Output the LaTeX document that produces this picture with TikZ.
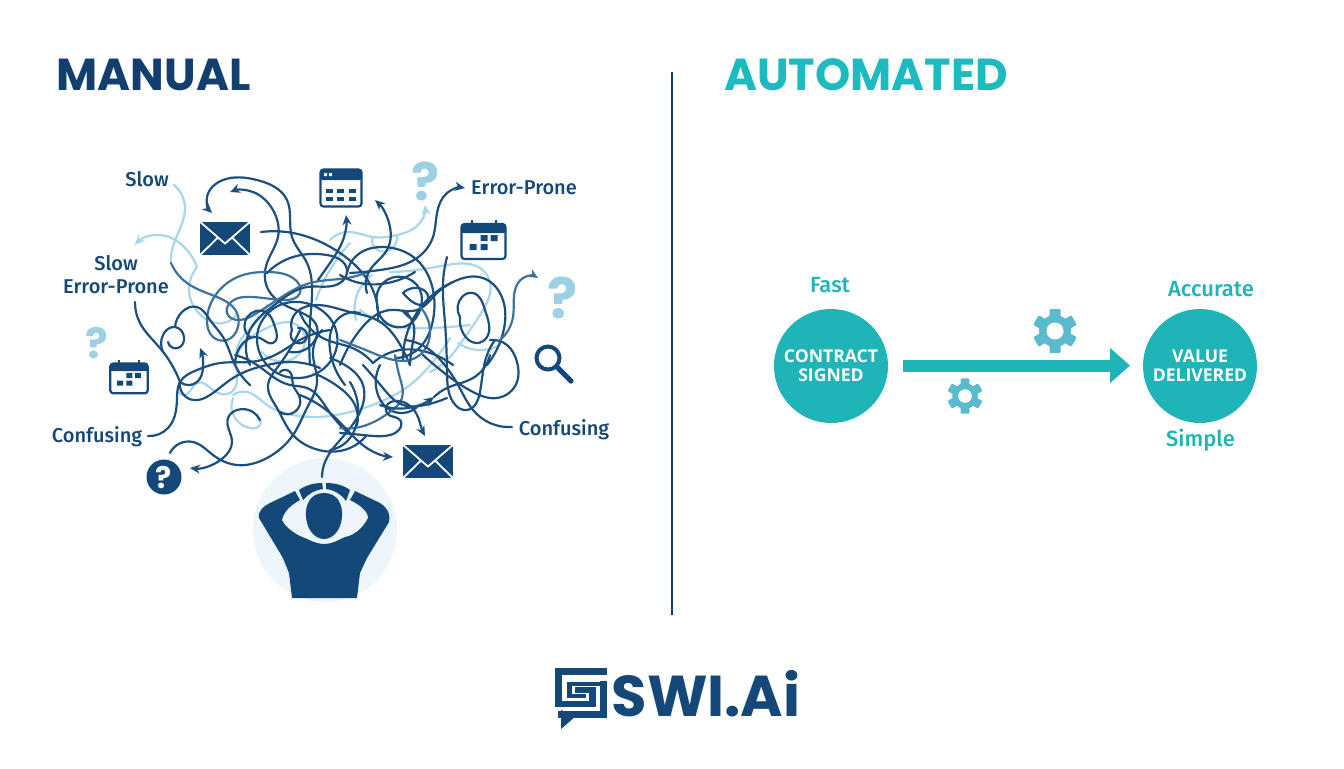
\documentclass[tikz,border=0pt]{standalone}
\usepackage{xcolor}
\usepackage{fontspec}
\usepackage{tikz}
\usetikzlibrary{arrows.meta, positioning, calc, hobby}
\setmainfont{Fira Sans Medium}[BoldFont=Open Sans Bold]
\newfontfamily\headfont{Poppins}[BoldFont=Poppins Bold]
\definecolor{navy}{HTML}{144878}
\definecolor{headnavy}{HTML}{123F6E}
\definecolor{wire}{HTML}{1A4F7F}
\definecolor{midwire}{HTML}{3E729E}
\definecolor{pale}{HTML}{A9D6E8}
\definecolor{qmark}{HTML}{9CD0E5}
\definecolor{teal}{HTML}{1EB4B8}
\definecolor{headteal}{HTML}{1DBBC0}
\definecolor{gearblue}{HTML}{5ABBCF}
\definecolor{halo}{HTML}{EDF6FA}
\tikzset{
  wirestrand/.style={draw=wire, line width=1.1pt, line cap=round, line join=round, use Hobby shortcut},
  midstrand/.style={draw=midwire, line width=1.1pt, line cap=round, line join=round, use Hobby shortcut},
  palestrand/.style={draw=pale, line width=1.1pt, line cap=round, line join=round, use Hobby shortcut},
  tip/.style={-{Stealth[length=5pt,width=4.5pt]}},
  lbl/.style={text=navy, font=\fontsize{10}{11.2}\selectfont, align=center, inner sep=0pt},
  tlbl/.style={text=teal, font=\fontsize{11}{12}\selectfont, align=center, inner sep=0pt},
  hub/.style={circle, fill=teal, minimum size=57pt, inner sep=0pt, text=white, align=center,
    font=\fontsize{8.8}{9.5}\selectfont\bfseries},
  quest/.style={text=qmark, inner sep=0pt, font=\headfont\bfseries},
  mailicon/.pic={
    \fill[navy] (-25,-16.5) rectangle (25,16.5);
    \draw[white, line width=0.9pt] (-26,-17.5) -- (0,5) -- (26,-17.5) (-26,17.5) -- (-7,-1) (26,17.5) -- (7,-1);
  },
  calicon/.pic={
    \draw[navy, line width=1.1pt, rounded corners=1.5pt, fill=white] (-22,-17) rectangle (22,18);
    \fill[navy, rounded corners=1pt] (-22,-17) rectangle (22,-8);
    \draw[navy, line width=1pt] (-12,-21) -- (-12,-14) (12,-21) -- (12,-14);
    \fill[navy] (-3,-6) rectangle (4,0) (7,-6) rectangle (14,0) (-14,3) rectangle (-7,9) (-3,3) rectangle (4,9);
  },
  cogicon/.pic={
    \fill[gearblue] (0,0) circle (16);
    \foreach \a in {0,60,...,300}
      \fill[gearblue, rotate=\a, rounded corners=0.5pt] (-5.5,-22) rectangle (5.5,-13);
    \fill[white] (0,0) circle (8.5);
  }
}
\begin{document}
\begin{tikzpicture}[x=0.5pt,y=-0.5pt]
  \useasboundingbox (0,0) rectangle (1344,768);
  \fill[white] (0,0) rectangle (1344,768);

  % Titres
  \node[text=headnavy, font=\headfont\bfseries\fontsize{22.4}{26}\selectfont, inner sep=0pt] (manualhead) at (153.5,75) {MANUAL};
  \node[text=headteal, font=\headfont\bfseries\fontsize{22.4}{26}\selectfont, inner sep=0pt] (autohead) at (866,75) {AUTOMATED};
  \draw[headnavy, line width=1pt] (672,72) -- (672,615);

  % Personnage
  \fill[halo] (325,530) circle (72);
  \fill[navy] (292,598) -- (357,598) -- (360,573) -- (367,558) -- (389,522) .. controls (391,512) and (385,506) .. (380,503)
    -- (355,491) -- (350,500) .. controls (360,505) and (368,511) .. (368,518) .. controls (362,530) and (352,536) .. (345,537)
    .. controls (338,540) and (332,544) .. (325,544) .. controls (316,544) and (310,540) .. (300,536)
    .. controls (294,533) and (285,527) .. (282,520) .. controls (284,511) and (291,505) .. (300,500)
    -- (295,491) -- (270,503) .. controls (264,506) and (258,510) .. (259,518) -- (283,558) -- (289,573) -- cycle;
  \fill[navy] (299,490) .. controls (306,485) and (314,483) .. (322,483) -- (323,489) .. controls (315,490) and (308,494) .. (303,500) -- cycle;
  \fill[navy] (350,490) .. controls (343,485) and (335,483) .. (326,483) -- (326,489) .. controls (334,490) and (341,494) .. (346,501) -- cycle;
  \fill[navy] (324,493) .. controls (338,493) and (343,505) .. (342,517) .. controls (341,530) and (333,539) .. (324,539)
    .. controls (315,539) and (307,530) .. (306,517) .. controls (305,505) and (310,493) .. (324,493) -- cycle;

  % Fils clairs
  \draw[palestrand] (174,185) .. (185,207) .. (172,250) .. (171,263);
  \draw[palestrand, tip] (197,267) .. (187,250) .. (160,235) .. (135,245);
  \draw[palestrand] (197,267) .. (190,297) .. (203,317) .. (227,322) .. (237,313);
  \draw[palestrand, tip] (330,240) .. (347,232) .. (373,237) .. (397,235) .. (418,225) .. (425,205);
  \draw[palestrand] (373,237) .. (375,248) .. (395,245) .. (397,235);
  \draw[palestrand] (390,272) .. (417,270) .. (447,265) .. (480,268) .. (490,282) .. (483,310) .. (463,340) .. (445,362) .. (430,372);
  \draw[palestrand] (180,385) .. (183,395) .. (197,383) .. (213,390) .. (230,393) .. (237,372) .. (238,345) .. (260,318) .. (267,305);
  \draw[palestrand] (233,395) .. (247,392) .. (267,405) .. (293,415) .. (317,417) .. (350,412) .. (380,402) .. (410,385) .. (433,362) .. (450,338);
  \draw[palestrand] (233,398) .. (235,418) .. (250,428) .. (260,425) .. (257,417);
  \draw[palestrand] (237,357) .. (247,340) .. (263,330) .. (297,325) .. (305,338) .. (290,360) .. (262,352);
  \draw[palestrand] (316,300) .. (335,262) .. (350,243);
  \draw[palestrand] (356,320) .. (362,285) .. (372,275);
  \draw[palestrand] (360,310) .. (395,326) .. (430,328) .. (470,325);
  \draw[palestrand] (458,343) .. (478,350) .. (500,345);

  % Fils sombres, en haut
  \draw[wirestrand, tip] (310,365) .. (310,323) .. (312,287) .. (307,263) .. (292,237) .. (287,200) .. (257,180) .. (223,180) .. (207,197) .. (212,213);
  \draw[wirestrand, tip] (290,352) .. (315,340) .. (317,327) .. (300,312) .. (277,300) .. (267,287) .. (267,263) .. (278,237) .. (273,210) .. (253,192) .. (230,192);
  \draw[wirestrand] (261,232) .. (293,233) .. (340,253) .. (372,288) .. (378,320);
  \draw[midstrand] (171,263) .. (187,283) .. (217,297) .. (237,313) .. (238,327) .. (227,340) .. (213,337) .. (207,320) .. (217,293) .. (243,275) .. (267,272) .. (293,278) .. (300,293) .. (283,300) .. (253,297) .. (230,303) .. (227,313) .. (240,320) .. (257,313) .. (277,300) .. (310,283) .. (347,278) .. (368,272);
  \draw[wirestrand] (267,273) .. (293,257) .. (327,255) .. (347,270) .. (340,283) .. (307,287) .. (277,303) .. (250,330) .. (250,365);
  \draw[wirestrand, tip] (350,273) .. (380,270) .. (417,258) .. (433,237) .. (437,213) .. (447,193) .. (465,188);
  \draw[wirestrand, tip] (367,293) .. (370,270) .. (387,250) .. (390,227) .. (375,200);
  \draw[wirestrand, tip] (318,280) .. (330,263) .. (343,240) .. (346,215);
  \draw[wirestrand] (347,273) .. (360,253) .. (383,247) .. (417,260) .. (433,290) .. (433,320) .. (417,350) .. (395,358);
  \draw[wirestrand] (340,275) .. (360,283) .. (392,282) .. (415,272);
  \draw[wirestrand] (377,303) .. (383,283) .. (403,277) .. (420,290) .. (420,310) .. (403,327) .. (383,320) .. (377,303);
  \draw[wirestrand] (403,293) .. (413,288) .. (427,302) .. (410,300) .. (403,293);

  % Fils sombres, a gauche
  \draw[wirestrand] (135,302) .. (140,323) .. (160,348) .. (180,382);
  \draw[wirestrand] (163,352) .. (163,335) .. (175,327) .. (184,337) .. (178,348) .. (168,342);
  \draw[wirestrand] (175,327) .. (182,312) .. (197,307) .. (210,320) .. (223,337) .. (235,365) .. (250,385);
  \draw[wirestrand] (148,436) .. (168,428) .. (175,415) .. (177,398) .. (180,382) .. (197,370) .. (220,363) .. (250,362) .. (275,355) .. (300,340) .. (330,330);
  \draw[wirestrand, tip] (180,382) .. (197,382) .. (203,368) .. (200,348);
  \draw[wirestrand] (180,382) .. (193,400) .. (210,395) .. (233,378) .. (267,365) .. (290,362) .. (320,368);
  \draw[wirestrand, tip] (260,420) .. (253,412) .. (237,410) .. (228,418) .. (232,442) .. (223,458) .. (190,468);
  \draw[wirestrand] (170,453) .. (193,442) .. (213,455) .. (237,465) .. (267,458) .. (293,435) .. (307,408) .. (317,382) .. (313,355) .. (322,330);
  \draw[wirestrand] (322,477) .. (325,462) .. (347,432) .. (360,412) .. (363,385) .. (345,365) .. (330,358);
  \draw[wirestrand] (300,330) .. (277,368) .. (268,385) .. (277,408) .. (293,435) .. (310,447) .. (350,448) .. (366,436);
  \draw[wirestrand] (280,412) .. (300,398) .. (293,385) .. (290,372) .. (280,372);
  \draw[wirestrand] (250,337) .. (267,313) .. (275,327) .. (273,343) .. (260,338) .. (240,347) .. (235,365);
  \draw[wirestrand] (292,330) .. (293,317) .. (317,305) .. (350,312) .. (377,320) .. (403,350) .. (410,365);
  \draw[wirestrand] (292,330) .. (297,343) .. (307,337) .. (298,328);
  \draw[wirestrand] (300,313) .. (327,340) .. (350,347) .. (373,363);
  \draw[wirestrand] (235,355) .. (257,365) .. (290,385) .. (307,388) .. (328,410) .. (347,432);
  \draw[wirestrand] (258,330) .. (280,305) .. (312,305) .. (336,330) .. (330,362) .. (300,378) .. (270,368) .. (258,330);

  % Fils sombres, au centre et en bas
  \draw[wirestrand] (340,365) .. (360,330) .. (390,310) .. (417,310) .. (437,293) .. (453,282) .. (483,278) .. (503,300) .. (503,333) .. (487,365);
  \draw[wirestrand] (403,360) .. (427,300) .. (453,282);
  \draw[wirestrand] (373,363) .. (400,350) .. (430,353) .. (453,365);
  \draw[midstrand] (340,340) .. (373,353) .. (417,357) .. (430,333) .. (420,307);
  \draw[wirestrand] (360,313) .. (340,317) .. (330,350) .. (345,385);
  \draw[wirestrand, tip] (410,365) .. (412,347) .. (413,323) .. (401,311);
  \draw[wirestrand] (380,365) .. (378,395) .. (390,410) .. (417,407);
  \draw[midstrand] (395,355) .. (400,378) .. (402,398) .. (390,412) .. (360,427) .. (340,428);
  \draw[wirestrand] (350,382) .. (357,422) .. (350,438) .. (330,450);
  \draw[wirestrand] (318,375) .. (340,388) .. (355,405) .. (357,425);
  \draw[wirestrand] (363,365) .. (383,388) .. (403,405) .. (425,405) .. (447,398);
  \draw[wirestrand, tip] (340,433) .. (363,435) .. (390,435) .. (400,420) .. (387,413) .. (420,423) .. (425,436);
  \draw[wirestrand, tip] (300,395) .. (330,413) .. (350,433) .. (370,450) .. (393,457);
  \draw[wirestrand, tip] (380,405) .. (413,407) .. (434,397);
  \draw[wirestrand] (434,397) .. (447,388) .. (473,378) .. (490,355);

  % Fils sombres, a droite
  \draw[wirestrand] (512,427) .. (490,423) .. (473,410) .. (457,383) .. (443,363) .. (430,350) .. (405,340);
  \draw[wirestrand] (447,257) .. (443,283) .. (445,323) .. (447,372) .. (453,402) .. (467,410) .. (480,392) .. (487,355) .. (495,340);
  \draw[wirestrand] (423,355) .. (443,372) .. (473,392) .. (497,398) .. (517,382) .. (517,362) .. (507,345) .. (490,340);
  \draw[wirestrand] (460,317) .. (462,297) .. (473,293) .. (485,310) .. (487,337) .. (477,343) .. (463,333) .. (460,317);
  \draw[midstrand, tip] (500,340) .. (513,317) .. (515,290) .. (523,278) .. (538,278);

  % Icones
  \pic at (225,238.5) {mailicon};
  \pic at (428,461.5) {mailicon};
  \draw[navy, line width=1.1pt, rounded corners=1.5pt, fill=white] (320.5,169.5) rectangle (361.5,206.5);
  \fill[navy, rounded corners=1pt] (320.5,169.5) rectangle (361.5,180);
  \fill[white] (324,173) rectangle (327,176) (329,173) rectangle (332,176);
  \foreach \cx in {326,337,349}
    \foreach \cy in {189,197}
      \fill[navy] (\cx,\cy) rectangle ++(7,4);
  \pic at (483.5,241) {calicon};
  \pic[scale=0.85] at (129,378) {calicon};
  \node[quest, font=\headfont\bfseries\fontsize{26}{28}\selectfont] (qtop) at (425,181) {?};
  \node[quest, font=\headfont\bfseries\fontsize{28}{30}\selectfont] (qright) at (563,298) {?};
  \node[quest, font=\headfont\bfseries\fontsize{21}{23}\selectfont] (qleft) at (97,343) {?};
  \node[circle, fill=navy, minimum size=17.5pt, inner sep=0pt, text=white, font=\headfont\bfseries\fontsize{15}{17}\selectfont] (qdark) at (164,477) {?};
  \draw[navy, line width=2pt] (548,358) circle (11.5);
  \draw[navy, line width=2.6pt, line cap=round] (556.5,366.5) -- (571,381);

  % Etiquettes
  \node[lbl] (slowtop) at (147,179.5) {Slow};
  \node[lbl] (slowerr) at (116,274.5) {Slow\\Error-Prone};
  \node[lbl] (errright) at (524,188) {Error-Prone};
  \node[lbl] (confleft) at (97,437) {Confusing};
  \node[lbl] (confright) at (564,430) {Confusing};

  % Partie droite
  \node[hub] (contract) at (831,366) {CONTRACT\\SIGNED};
  \node[hub] (value) at (1200,366) {VALUE\\DELIVERED};
  \node[tlbl] (fast) at (830,285.5) {Fast};
  \node[tlbl] (accurate) at (1211,289.5) {Accurate};
  \node[tlbl] (simple) at (1200.5,440.5) {Simple};
  \coordinate (flowstart) at (903,365.5);
  \coordinate (flowend) at (1130,365.5);
  \draw[draw=teal, line width=6pt, -{Triangle[length=10pt,width=17pt]}] (flowstart) -- (flowend);
  \pic at (1055,331) {cogicon};
  \pic[scale=0.8] at (965,396) {cogicon};

  % Logo
  \fill[navy] (561,710) -- (561,729) -- (576,716) -- cycle;
  \draw[navy, line width=3.3pt, miter limit=2] (607,671.5) -- (558.5,671.5) -- (558.5,704) -- (592.5,704) -- (592.5,690) -- (575,690);
  \draw[navy, line width=2.2pt] (586,696) -- (569.5,696) -- (569.5,684) -- (603.5,684);
  \draw[navy, line width=3.4pt] (600,684) -- (603.5,684) -- (603.5,714.5) -- (558,714.5);
  \node[text=navy, font=\headfont\bfseries\fontsize{28.8}{32}\selectfont, inner sep=0pt] (brand) at (706,694) {SWI.Ai};
\end{tikzpicture}
\end{document}
